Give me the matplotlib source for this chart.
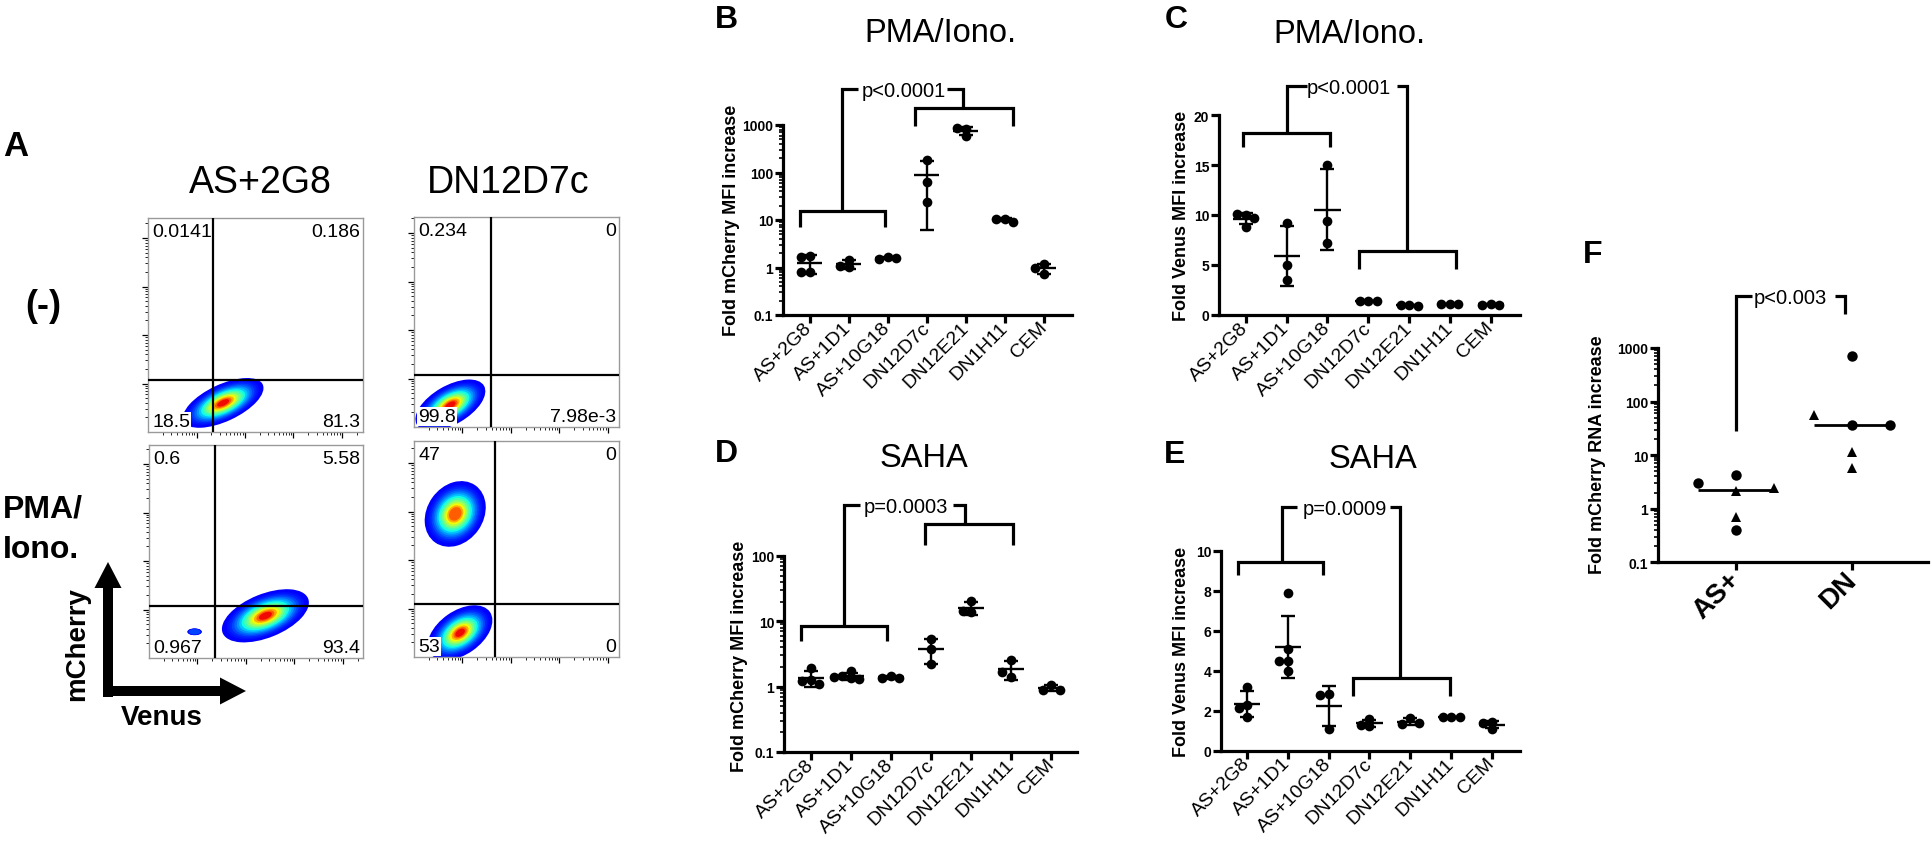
import numpy as np
import matplotlib
matplotlib.use('Agg')
import matplotlib.pyplot as plt
from matplotlib.patches import Ellipse, FancyArrow
from matplotlib.ticker import FixedLocator, LogLocator, NullFormatter, FixedFormatter

plt.rcParams['font.family'] = ['Liberation Sans', 'DejaVu Sans']

W, H = 1933, 845

# ---------------- data ----------------
categories = ['AS+2G8', 'AS+1D1', 'AS+10G18', 'DN12D7c', 'DN12E21', 'DN1H11', 'CEM']

# B: PMA/Iono., fold mCherry MFI
b_values = [[1.75, 1.7, 0.82, 0.80], [1.45, 1.02, 1.05], [1.65, 1.5, 1.62],
            [185, 62, 24], [820, 850, 590], [10.5, 10.4, 9.2], [1.18, 1.0, 0.72]]
# C: PMA/Iono., fold Venus MFI
c_values = [[10.0, 10.1, 9.7, 8.8], [9.2, 5.0, 3.5], [15.0, 9.4, 7.2],
            [1.4, 1.4, 1.4], [1.0, 1.05, 0.95], [1.1, 1.1, 1.1], [1.15, 1.0, 1.05]]
# D: SAHA, fold mCherry MFI
d_values = [[1.95, 1.25, 1.2, 1.1], [1.75, 1.45, 1.35, 1.3, 1.4], [1.45, 1.35, 1.35],
            [5.4, 3.8, 2.2], [20.5, 13.8, 14.5], [2.55, 1.4, 1.7], [1.06, 0.89, 0.9]]
# E: SAHA, fold Venus MFI
e_values = [[3.2, 2.3, 2.15, 1.7], [7.9, 5.1, 4.5, 4.5, 4.0], [2.83, 2.77, 1.07],
            [1.58, 1.25, 1.27], [1.65, 1.33, 1.4], [1.7, 1.68, 1.68], [1.43, 1.09, 1.39]]

# F: fold mCherry RNA
f_groups = ['AS+', 'DN']
f_as_values = [4.3, 3.0, 2.1, 2.45, 0.69, 0.40]
f_as_marker = ['o', 'o', '^', '^', '^', 'o']
f_dn_values = [720, 37, 55, 37, 11.3, 5.8]
f_dn_marker = ['o', 'o', '^', 'o', '^', '^']

log_ticks_b = [0.1, 1, 10, 100, 1000]
log_labels_b = ['0.1', '1', '10', '100', '1000']
log_ticks_d = [0.1, 1, 10, 100]
log_labels_d = ['0.1', '1', '10', '100']
lin_ticks_c = [0, 5, 10, 15, 20]
lin_ticks_e = [0, 2, 4, 6, 8, 10]

# A: flow cytometry panels (quadrant percentages, gates, populations)
flow_cols = ['AS+2G8', 'DN12D7c']
flow_pct = [['0.0141', '0.186', '18.5', '81.3'],
            ['0.6', '5.58', '0.967', '93.4'],
            ['0.234', '0', '99.8', '7.98e-3'],
            ['47', '0', '53', '0']]
flow_gate_x = [1.35, 1.37, 1.58, 1.67]
flow_gate_y = [1.08, 1.08, 1.08, 1.10]
# populations: (centre x, centre y, semi-major, semi-minor, angle, peak density 0..1)
flow_pops = [[(1.55, 0.60, 0.90, 0.38, 25, 1.0)],
             [(2.40, 0.87, 0.95, 0.45, 22, 1.0), (0.94, 0.54, 0.15, 0.07, 0, 0.1)],
             [(0.75, 0.45, 0.80, 0.40, 30, 1.0)],
             [(0.85, 2.95, 0.72, 0.58, 55, 0.9), (0.95, 0.50, 0.75, 0.45, 35, 1.0)]]

# ---------------- figure ----------------
fig = plt.figure(figsize=(W / 100, H / 100), dpi=100)


def rect(x0, y0, x1, y1):
    return [x0 / W, 1 - y1 / H, (x1 - x0) / W, (y1 - y0) / H]


ov = fig.add_axes([0, 0, 1, 1])
ov.set_xlim(0, W)
ov.set_ylim(H, 0)
ov.axis('off')

# ---- panel A ----
flow_rects = [(148, 219, 363, 433), (149, 446, 363, 659),
              (414, 218, 619, 428), (414, 442, 619, 658)]
DEC = 48.5
jet = plt.get_cmap('jet')
N_LEV = 16

for k, r in enumerate(flow_rects):
    ax = fig.add_axes(rect(*r))
    xw = (r[2] - r[0]) / DEC
    yh = (r[3] - r[1]) / DEC
    ax.set_xlim(0, xw)
    ax.set_ylim(0, yh)
    for s in ax.spines.values():
        s.set_color('#9a9a9a')
        s.set_linewidth(1.0)
    ax.set_xticks([t for t in [1, 2, 3, 4] if t < xw])
    ax.set_yticks([t for t in [1, 2, 3, 4] if t < yh])
    ax.set_xticks([d + np.log10(m) for d in range(0, 5) for m in range(2, 10)
                   if d + np.log10(m) < xw], minor=True)
    ax.set_yticks([d + np.log10(m) for d in range(0, 5) for m in range(2, 10)
                   if d + np.log10(m) < yh], minor=True)
    ax.tick_params(which='major', length=4, width=0.9, direction='out',
                   labelleft=False, labelbottom=False)
    ax.tick_params(which='minor', length=2, width=0.6, direction='out')
    for (cx, cy, a, b, ang, peak) in flow_pops[k]:
        for j in range(N_LEV):
            rr = 1.0 - 0.85 * j / (N_LEV - 1)
            t = 0.12 + 0.78 * ((1 - rr) / 0.85) ** 1.8
            if t > 0.12 + 0.78 * peak + 1e-9:
                break
            ax.add_patch(Ellipse((cx, cy), 2 * a * rr, 2 * b * rr, angle=ang,
                                 facecolor=jet(t), edgecolor='none', zorder=1 + j * 0.01))
    ax.axvline(flow_gate_x[k], color='k', lw=1.6, zorder=3)
    ax.axhline(flow_gate_y[k], color='k', lw=1.6, zorder=3)
    tl, tr, bl, br = flow_pct[k]
    fs = 14
    ax.text(0.02, 0.975, tl, transform=ax.transAxes, ha='left', va='top', fontsize=fs, zorder=5)
    ax.text(0.985, 0.975, tr, transform=ax.transAxes, ha='right', va='top', fontsize=fs, zorder=5)
    ax.text(0.02, 0.01, bl, transform=ax.transAxes, ha='left', va='bottom', fontsize=fs, zorder=5,
            bbox=dict(facecolor='white', edgecolor='none', pad=0.5))
    ax.text(0.985, 0.01, br, transform=ax.transAxes, ha='right', va='bottom', fontsize=fs, zorder=5)

ov.text(3, 156, 'A', fontsize=25, fontweight='bold', ha='left', va='baseline')
ov.text(260, 193, flow_cols[0], fontsize=27, ha='center', va='baseline')
ov.text(508, 193, flow_cols[1], fontsize=27, ha='center', va='baseline')
ov.text(43, 307, '(-)', fontsize=26, fontweight='bold', ha='center', va='center')
ov.text(3, 518, 'PMA/', fontsize=23, fontweight='bold', ha='left', va='baseline')
ov.text(3, 558, 'Iono.', fontsize=23, fontweight='bold', ha='left', va='baseline')
ov.add_patch(FancyArrow(108, 698, 0, -135, width=10, head_width=27, head_length=26,
                        length_includes_head=True, color='k', lw=0))
ov.add_patch(FancyArrow(103, 692, 143, 0, width=10, head_width=27, head_length=26,
                        length_includes_head=True, color='k', lw=0))
ov.text(77, 644, 'mCherry', fontsize=20, fontweight='bold', rotation=90, ha='center', va='center')
ov.text(162, 718, 'Venus', fontsize=20, fontweight='bold', ha='center', va='center')


# ---- scatter panels ----
def setup_ax(px_rect, xlim, ylim, log):
    ax = fig.add_axes(rect(*px_rect))
    if log:
        ax.set_yscale('log')
    ax.set_xlim(*xlim)
    ax.set_ylim(*ylim)
    ax.patch.set_alpha(0)
    for s in ['top', 'right']:
        ax.spines[s].set_visible(False)
    for s in ['left', 'bottom']:
        ax.spines[s].set_linewidth(2.3)
    ax.tick_params(which='major', length=5.5, width=2.3, direction='out', pad=1.5)
    ax.tick_params(which='minor', length=3, width=1.2, direction='out')
    return ax


def swarm(ax, x, ys, diam_px, step_px):
    placed, offs = [], []
    tr = ax.transData
    inv = tr.inverted()
    for y in ys:
        px, py = tr.transform((x, y))
        cx = px
        for k in [0, -1, 1, -2, 2, -3, 3]:
            cx = px + k * step_px
            if all((cx - qx) ** 2 + (py - qy) ** 2 >= diam_px ** 2 for qx, qy in placed):
                break
        placed.append((cx, py))
        offs.append(inv.transform((cx, py))[0])
    return offs


def draw_groups(ax, groups):
    for i, vals in enumerate(groups):
        vals = np.asarray(vals, dtype=float)
        xs = swarm(ax, i, vals, 6.5, 8.5)
        ax.plot(xs, vals, 'o', color='k', ms=7, mew=0, zorder=3, clip_on=False)
        m = vals.mean()
        sd = vals.std(ddof=1)
        ax.hlines(m, i - 0.32, i + 0.32, color='k', lw=1.7, zorder=2)
        ax.errorbar(i, m, yerr=sd, fmt='none', ecolor='k', elinewidth=1.7,
                    capsize=5, capthick=1.7, zorder=2)


def brackets(ax, sp):
    kw = dict(color='k', lw=2.3, clip_on=False, solid_capstyle='butt', solid_joinstyle='miter')
    if 'left' in sp:
        x0, x1, yh, yl = sp['left']
        ax.plot([x0, x0, x1, x1], [yl, yh, yh, yl], **kw)
        lb = yh
    else:
        lb = sp['stem_l_bottom']
    if 'right' in sp:
        x0, x1, yh, yl = sp['right']
        ax.plot([x0, x0, x1, x1], [yl, yh, yh, yl], **kw)
        rb = yh
    else:
        rb = sp['stem_r_bottom']
    top = sp['top']
    ax.plot([sp['stem_l'], sp['stem_l'], sp['seg_l']], [lb, top, top], **kw)
    ax.plot([sp['seg_r'], sp['stem_r'], sp['stem_r']], [top, top, rb], **kw)
    ax.annotate(sp['text'], (sp['text_x'], top), xytext=(0, -5), textcoords='offset points',
                ha='center', va='baseline', fontsize=14.5, annotation_clip=False)


def style_cats(ax, labels, fs=14, weight='normal'):
    ax.set_xticks(range(len(labels)))
    ax.set_xticklabels(labels, fontsize=fs, fontweight=weight)
    for lbl in ax.get_xticklabels():
        lbl.set_rotation(45)
        lbl.set_ha('right')
        lbl.set_va('center')
        lbl.set_rotation_mode('anchor')


def log_y(ax, ticks, labels):
    ax.yaxis.set_major_locator(FixedLocator(ticks))
    ax.yaxis.set_major_formatter(FixedFormatter(labels))
    ax.yaxis.set_minor_locator(LogLocator(base=10, subs=np.arange(2, 10), numticks=20))
    ax.yaxis.set_minor_formatter(NullFormatter())
    for t in ax.get_yticklabels():
        t.set_fontweight('bold')
        t.set_fontsize(10)


# B
axB = setup_ax((783, 126, 1072, 316), (-0.69, 6.72), (0.1, 1000), True)
log_y(axB, log_ticks_b, log_labels_b)
style_cats(axB, categories)
draw_groups(axB, b_values)
brackets(axB, dict(left=(-0.26, 1.93, 15.7, 7.1), right=(2.69, 5.21, 2280, 950),
                   stem_l=0.82, seg_l=1.23, seg_r=3.51, stem_r=3.92, top=5730,
                   text='p<0.0001', text_x=2.41))

# D
axD = setup_ax((784, 557, 1077, 753), (-0.675, 6.65), (0.1, 100), True)
log_y(axD, log_ticks_d, log_labels_d)
style_cats(axD, categories)
draw_groups(axD, d_values)
brackets(axD, dict(left=(-0.26, 1.89, 8.4, 5.04), right=(2.85, 5.05, 309, 147),
                   stem_l=0.83, seg_l=1.23, seg_r=3.55, stem_r=3.85, top=604,
                   text='p=0.0003', text_x=2.37))

# C
axC = setup_ax((1219, 116, 1520, 316), (-0.66, 6.72), (0, 20), False)
axC.set_yticks(lin_ticks_c)
axC.set_yticklabels([str(t) for t in lin_ticks_c], fontsize=10, fontweight='bold')
style_cats(axC, categories)
draw_groups(axC, c_values)
brackets(axC, dict(left=(-0.07, 2.06, 18.2, 16.8), right=(2.77, 5.15, 6.4, 4.6),
                   stem_l=1.0, seg_l=1.5, seg_r=3.7, stem_r=3.95, top=22.9,
                   text='p<0.0001', text_x=2.52))

# E
axE = setup_ax((1221, 551.7, 1520, 751.7), (-0.64, 6.69), (0, 10), False)
axE.set_yticks(lin_ticks_e)
axE.set_yticklabels([str(t) for t in lin_ticks_e], fontsize=10, fontweight='bold')
style_cats(axE, categories)
draw_groups(axE, e_values)
brackets(axE, dict(left=(-0.22, 1.86, 9.45, 8.78), right=(2.6, 4.98, 3.62, 2.75),
                   stem_l=0.86, seg_l=1.22, seg_r=3.5, stem_r=3.75, top=12.17,
                   text='p=0.0009', text_x=2.4))

# F
axF = setup_ax((1658, 349, 1928, 563.3), (-0.672, 1.655), (0.1, 1000), True)
log_y(axF, log_ticks_b, log_labels_b)
style_cats(axF, f_groups, fs=20, weight='bold')
axF.tick_params(axis='x', pad=4)
for i, (vals, mk) in enumerate([(f_as_values, f_as_marker), (f_dn_values, f_dn_marker)]):
    xs = swarm(axF, i, vals, 10.0, 38.0)
    for x, v, m in zip(xs, vals, mk):
        axF.plot(x, v, m, color='k', ms=7.5, mew=0, zorder=3)
    axF.hlines(np.median(vals), i - 0.33, i + 0.33, color='k', lw=2, zorder=2)
brackets(axF, dict(stem_l_bottom=28.7, stem_r_bottom=4300, stem_l=0.0, seg_l=0.14,
                   seg_r=0.85, stem_r=0.94, top=9460, text='p<0.003', text_x=0.47))

# ---- panel letters, titles, y labels ----
for letter, x, y in [('B', 715, 28), ('C', 1165, 28), ('D', 715, 462), ('E', 1164, 463), ('F', 1583, 263)]:
    ov.text(x, y, letter, fontsize=23, fontweight='bold', ha='left', va='baseline')
for title, x, y in [('PMA/Iono.', 940, 42), ('PMA/Iono.', 1349, 43), ('SAHA', 924, 467), ('SAHA', 1373, 468)]:
    ov.text(x, y, title, fontsize=23.5, ha='center', va='baseline')
for lab, x, y in [('Fold mCherry MFI increase', 732, 220), ('Fold mCherry MFI increase', 740, 656),
                  ('Fold Venus MFI increase', 1182, 216), ('Fold Venus MFI increase', 1182, 652),
                  ('Fold mCherry RNA increase', 1598, 455)]:
    ov.text(x, y, lab, fontsize=13, fontweight='bold', rotation=90, ha='center', va='center')

fig.savefig('out.png', dpi=100)
